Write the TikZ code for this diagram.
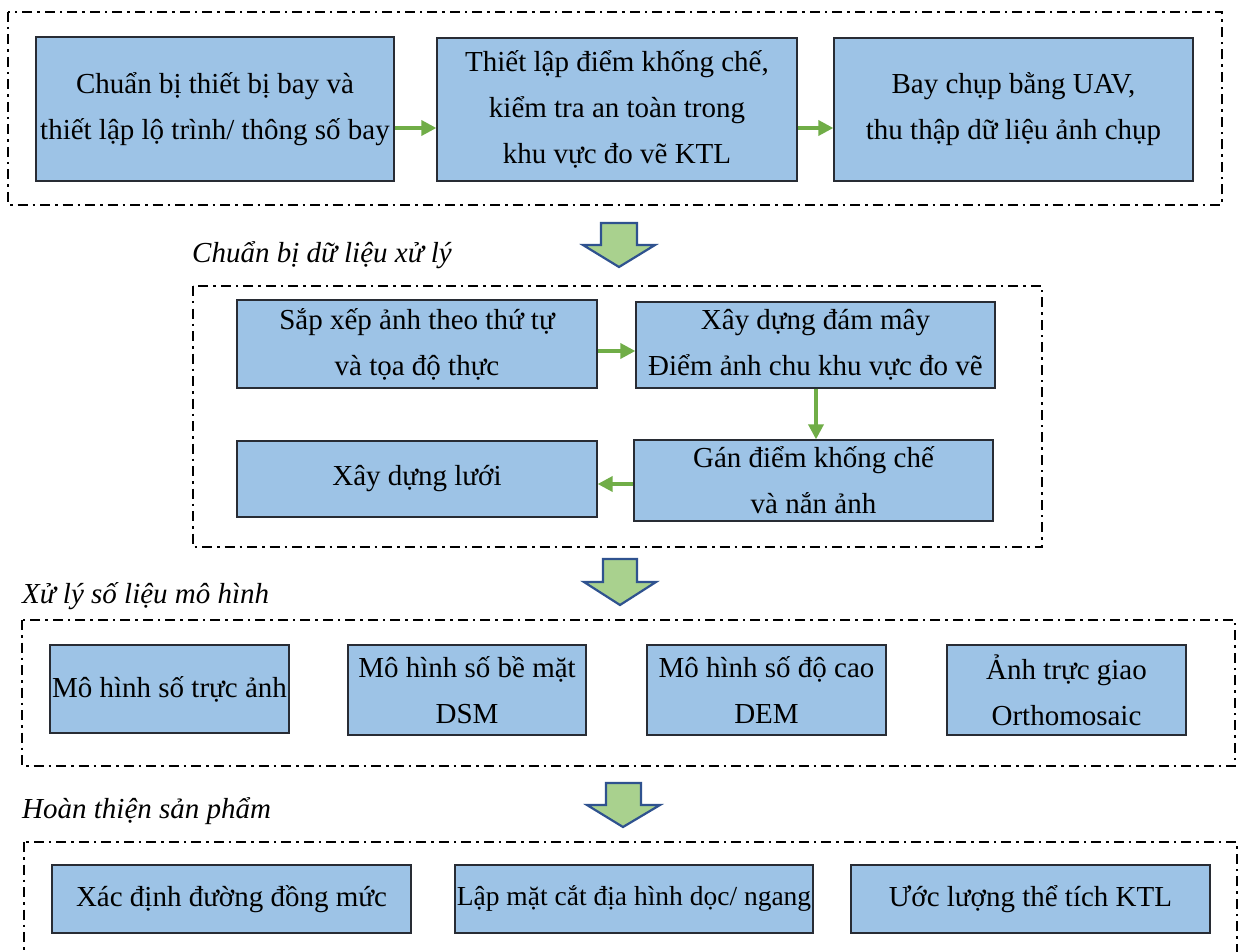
\documentclass[tikz,border=0pt]{standalone}
\usepackage{fontspec}
\setmainfont{Liberation Serif}
\usetikzlibrary{arrows.meta}
\definecolor{boxfill}{RGB}{157,195,230}
\definecolor{boxline}{RGB}{40,44,52}
\definecolor{arrgreen}{RGB}{112,173,71}
\definecolor{bigfill}{RGB}{169,209,142}
\definecolor{bigline}{RGB}{47,82,143}
\tikzset{
  stepbox/.style={draw=boxline, line width=1.3pt, fill=boxfill, align=center,
    inner sep=0pt, font=\fontsize{29}{46}\selectfont},
  groupbox/.style={draw=black, line width=2.6pt,
    dash pattern=on 10pt off 5pt on 2.5pt off 5pt},
  flow/.style={draw=arrgreen, line width=3.5pt, -{Triangle[length=15pt,width=15pt]}},
  bigarrow/.style={draw=bigline, line width=2.2pt, fill=bigfill, line join=miter},
  grouplabel/.style={anchor=west, inner sep=0pt, font=\fontsize{29}{34}\selectfont\itshape}
}
\newcommand{\stepnode}[6]{% name, x1, y1, x2, y2, text
  \node[stepbox, minimum width=#4-#2, minimum height=#5-#3] (#1) at ({(#2+#4)/2},{(#3+#5)/2}) {#6};}
\begin{document}
\begin{tikzpicture}[x=1pt,y=-1pt]
\useasboundingbox (0,0) rectangle (1243,952);
\fill[white] (0,0) rectangle (1243,952);

% group 1
\draw[groupbox] (8,12) rectangle (1222,205);
\stepnode{a1}{36}{37}{394}{181}{Chuẩn bị thiết bị bay và\\thiết lập lộ trình/ thông số bay}
\stepnode{a2}{437}{38}{797}{181}{Thiết lập điểm khống chế,\\kiểm tra an toàn trong\\khu vực đo vẽ KTL}
\stepnode{a3}{834}{38}{1193}{181}{Bay chụp bằng UAV,\\thu thập dữ liệu ảnh chụp}
\draw[flow] (a1.east |- 0,128) -- (a2.west |- 0,128);
\draw[flow] (a2.east |- 0,128) -- (a3.west |- 0,128);

% arrow 1
\draw[bigarrow] (601,223) -- (637,223) -- (637,245) -- (655,245) -- (619,267) -- (583,245) -- (601,245) -- cycle;

\node[grouplabel] (l2) at (192,255) {Chuẩn bị dữ liệu xử lý};

% group 2
\draw[groupbox] (193,286) rectangle (1042,547);
\stepnode{b1}{237}{300}{597}{388}{Sắp xếp ảnh theo thứ tự\\và tọa độ thực}
\stepnode{b2}{636}{302}{995}{388}{Xây dựng đám mây\\Điểm ảnh chu khu vực đo vẽ}
\stepnode{b3}{634}{440}{993}{521}{Gán điểm khống chế\\và nắn ảnh}
\stepnode{b4}{237}{441}{597}{517}{Xây dựng lưới}
\draw[flow] (b1.east |- 0,351) -- (b2.west |- 0,351);
\draw[flow] (816,0 |- b2.south) -- (816,0 |- b3.north);
\draw[flow] (b3.west |- 0,484) -- (b4.east |- 0,484);

% arrow 2
\draw[bigarrow] (603,559) -- (637,559) -- (637,582) -- (656,582) -- (620,605) -- (584,582) -- (603,582) -- cycle;

\node[grouplabel] (l3) at (22,596) {Xử lý số liệu mô hình};

% group 3
\draw[groupbox] (22,620) rectangle (1235,766);
\stepnode{c1}{50}{645}{289}{733}{Mô hình số trực ảnh}
\stepnode{c2}{348}{645}{586}{735}{Mô hình số bề mặt\\DSM}
\stepnode{c3}{647}{645}{886}{735}{Mô hình số độ cao\\DEM}
\stepnode{c4}{947}{645}{1186}{735}{Ảnh trực giao\\Orthomosaic}

% arrow 3
\draw[bigarrow] (606,783) -- (641,783) -- (641,805) -- (660,805) -- (623,827) -- (587,805) -- (606,805) -- cycle;

\node[grouplabel] (l4) at (22,811) {Hoàn thiện sản phẩm};

% group 4
\begin{scope}
\clip (0,0) rectangle (1243,952);
\draw[groupbox] (24,842) rectangle (1237,1000);
\end{scope}
\stepnode{d1}{52}{865}{411}{933}{Xác định đường đồng mức}
\stepnode{d2}{455}{865}{813}{933}{\fontsize{27.5}{46}\selectfont Lập mặt cắt địa hình dọc/ ngang}
\stepnode{d3}{851}{865}{1210}{933}{Ước lượng thể tích KTL}
\end{tikzpicture}
\end{document}
